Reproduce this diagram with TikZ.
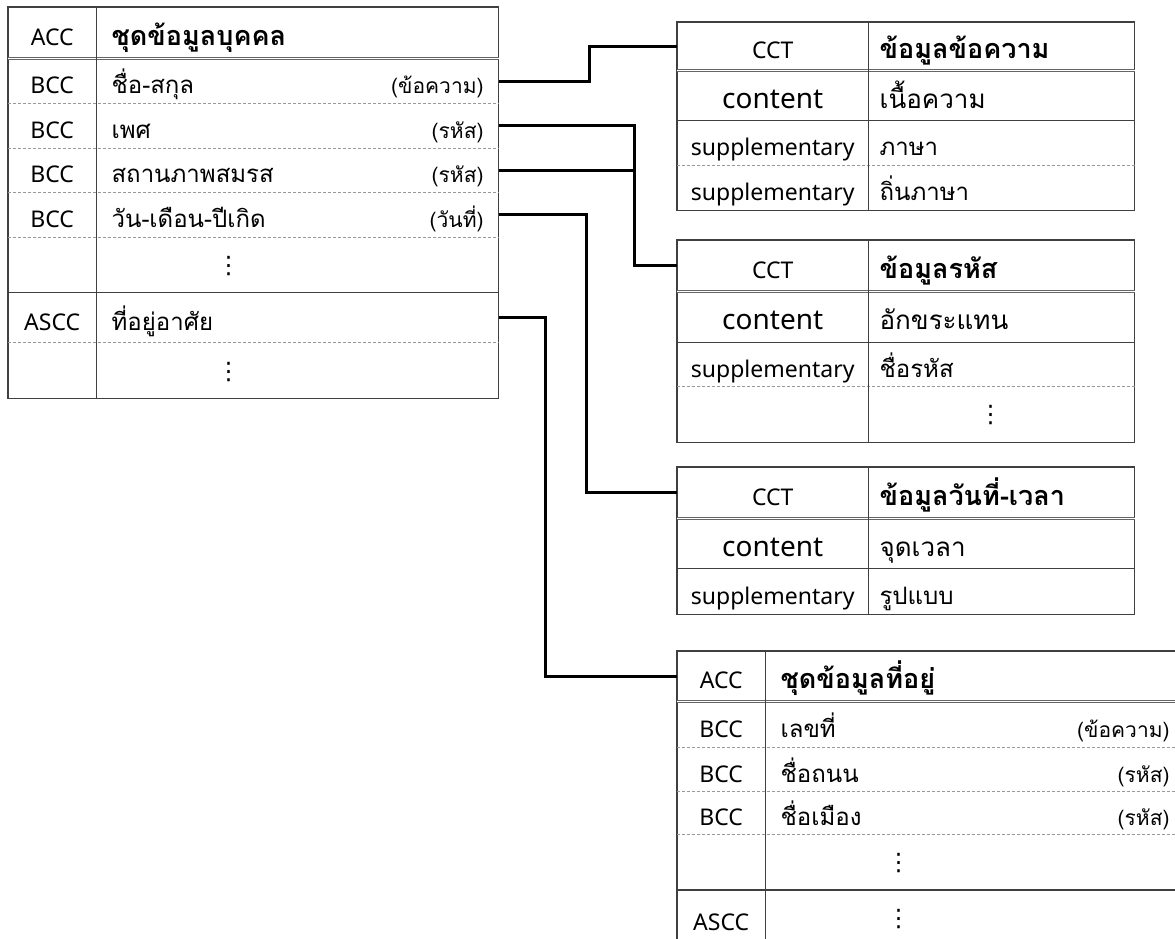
\documentclass[tikz,border=0pt]{standalone}
\usepackage{fontspec}
\setmainfont{Noto Sans}
\newfontfamily\thaifont[Script=Thai]{Loma}
\newfontfamily\dotsfont{DejaVu Sans}
\usetikzlibrary{positioning}
\setlength{\parindent}{0pt}
\newcommand{\dtype}[1]{{\fontsize{21}{25}\selectfont(#1)}}
\newcommand{\morerows}[1]{\hspace*{#1}\raisebox{4pt}{\dotsfont ⋮}}

\begin{document}
\begin{tikzpicture}[
    x=1pt, y=-1pt,
    font=\fontsize{23}{27}\selectfont,
    key/.style={minimum width=88pt, minimum height=#1, inner sep=0pt,
                text height=25pt, text depth=0pt},
    val/.style={minimum height=#1, text width=372pt, inner xsep=15pt, inner ysep=0pt,
                text height=25pt, text depth=0pt,
                align=left, font=\thaifont\fontsize{24}{28}\selectfont},
    hval/.style={val=#1, font=\thaifont\bfseries\fontsize{27}{31}\selectfont},
    ckey/.style={minimum width=191pt, minimum height=#1, inner sep=0pt,
                 text height=25pt, text depth=0pt},
    cval/.style={minimum height=#1, text width=244pt, inner xsep=11pt, inner ysep=0pt,
                 text height=25pt, text depth=0pt,
                 align=left, font=\thaifont\fontsize{24}{28}\selectfont},
    chval/.style={cval=#1, font=\thaifont\bfseries\fontsize{27}{31}\selectfont},
    big/.style={font=\fontsize{28}{32}\selectfont},
    bigthai/.style={font=\thaifont\fontsize{26}{30}\selectfont},
    frame/.style={draw=black!75, line width=1.3pt},
    dbl/.style={draw=black!60, double=white, double distance=1.6pt, line width=0.9pt},
    sep/.style={draw=black!40, line width=1pt, dash pattern=on 3pt off 2pt},
    link/.style={draw=black, line width=3pt}
]
\useasboundingbox (0,0) rectangle (1175,939);
\clip (0,0) rectangle (1175,939);

% person record (left)
\node[key=51, anchor=north west] (ppl-hk) at (8,7) {ACC};
\node[hval=51, right=0pt of ppl-hk] (ppl-hd) {ชุดข้อมูลบุคคล};
\node[key=45, below=0pt of ppl-hk] (ppl-k1) {BCC};
\node[val=45, right=0pt of ppl-k1] (ppl-r1) {ชื่อ-สกุล\hfill\dtype{ข้อความ}};
\node[key=44, below=0pt of ppl-k1] (ppl-k2) {BCC};
\node[val=44, right=0pt of ppl-k2] (ppl-r2) {เพศ\hfill\dtype{รหัส}};
\node[key=44, below=0pt of ppl-k2] (ppl-k3) {BCC};
\node[val=44, right=0pt of ppl-k3] (ppl-r3) {สถานภาพสมรส\hfill\dtype{รหัส}};
\node[key=44, below=0pt of ppl-k3] (ppl-k4) {BCC};
\node[val=44, right=0pt of ppl-k4] (ppl-r4) {วัน-เดือน-ปีเกิด\hfill\dtype{วันที่}};
\node[key=55, below=0pt of ppl-k4] (ppl-k5) {};
\node[val=55, right=0pt of ppl-k5] (ppl-r5) {\morerows{105pt}};
\node[key=50, below=0pt of ppl-k5] (ppl-k6) {ASCC};
\node[val=50, right=0pt of ppl-k6] (ppl-r6) {ที่อยู่อาศัย};
\node[key=55, below=0pt of ppl-k6] (ppl-k7) {};
\node[val=55, right=0pt of ppl-k7] (ppl-r7) {\morerows{105pt}};

\draw[frame] (ppl-hk.north west) rectangle (ppl-r7.south east);
\draw[dbl] (ppl-hk.south west) -- (ppl-hd.south east);
\foreach \i in {1,2,3,4,6} \draw[sep] (ppl-k\i.south west) -- (ppl-r\i.south east);
\draw[frame] (ppl-k5.south west) -- (ppl-r5.south east);
\draw[frame] (ppl-hk.north east) -- (ppl-k7.south east);

% text type
\node[ckey=48, anchor=north west] (msg-hk) at (677,22) {CCT};
\node[chval=48, right=0pt of msg-hk] (msg-hd) {ข้อมูลข้อความ};
\node[ckey=50, big, below=0pt of msg-hk] (msg-k1) {content};
\node[cval=50, bigthai, right=0pt of msg-k1] (msg-r1) {เนื้อความ};
\node[ckey=44, below=0pt of msg-k1] (msg-k2) {supplementary};
\node[cval=44, right=0pt of msg-k2] (msg-r2) {ภาษา};
\node[ckey=45, below=0pt of msg-k2] (msg-k3) {supplementary};
\node[cval=45, right=0pt of msg-k3] (msg-r3) {ถิ่นภาษา};

\draw[frame] (msg-hk.north west) rectangle (msg-r3.south east);
\draw[dbl] (msg-hk.south west) -- (msg-hd.south east);
\draw[frame] (msg-k1.south west) -- (msg-r1.south east);
\draw[sep] (msg-k2.south west) -- (msg-r2.south east);
\draw[frame] (msg-hk.north east) -- (msg-k3.south east);

% code type
\node[ckey=51, anchor=north west] (code-hk) at (677,240) {CCT};
\node[chval=51, right=0pt of code-hk] (code-hd) {ข้อมูลรหัส};
\node[ckey=51, big, below=0pt of code-hk] (code-k1) {content};
\node[cval=51, bigthai, right=0pt of code-k1] (code-r1) {อักขระแทน};
\node[ckey=43, below=0pt of code-k1] (code-k2) {supplementary};
\node[cval=43, right=0pt of code-k2] (code-r2) {ชื่อรหัส};
\node[ckey=56, below=0pt of code-k2] (code-k3) {};
\node[cval=56, right=0pt of code-k3] (code-r3) {\morerows{99pt}};

\draw[frame] (code-hk.north west) rectangle (code-r3.south east);
\draw[dbl] (code-hk.south west) -- (code-hd.south east);
\draw[frame] (code-k1.south west) -- (code-r1.south east);
\draw[sep] (code-k2.south west) -- (code-r2.south east);
\draw[frame] (code-hk.north east) -- (code-k3.south east);

% date-time type
\node[ckey=51, anchor=north west] (date-hk) at (677,467) {CCT};
\node[chval=51, right=0pt of date-hk] (date-hd) {ข้อมูลวันที่-เวลา};
\node[ckey=50, big, below=0pt of date-hk] (date-k1) {content};
\node[cval=50, bigthai, right=0pt of date-k1] (date-r1) {จุดเวลา};
\node[ckey=45, below=0pt of date-k1] (date-k2) {supplementary};
\node[cval=45, right=0pt of date-k2] (date-r2) {รูปแบบ};

\draw[frame] (date-hk.north west) rectangle (date-r2.south east);
\draw[dbl] (date-hk.south west) -- (date-hd.south east);
\draw[frame] (date-k1.south west) -- (date-r1.south east);
\draw[frame] (date-hk.north east) -- (date-k2.south east);

% address record (cut by the page edge)
\node[key=50, anchor=north west] (addr-hk) at (677,651) {ACC};
\node[hval=50, text width=389pt, right=0pt of addr-hk] (addr-hd) {ชุดข้อมูลที่อยู่};
\node[key=46, below=0pt of addr-hk] (addr-k1) {BCC};
\node[val=46, text width=389pt, right=0pt of addr-k1] (addr-r1) {เลขที่\hfill\dtype{ข้อความ}};
\node[key=43, below=0pt of addr-k1] (addr-k2) {BCC};
\node[val=43, text width=389pt, right=0pt of addr-k2] (addr-r2) {ชื่อถนน\hfill\dtype{รหัส}};
\node[key=43, below=0pt of addr-k2] (addr-k3) {BCC};
\node[val=43, text width=389pt, right=0pt of addr-k3] (addr-r3) {ชื่อเมือง\hfill\dtype{รหัส}};
\node[key=55, below=0pt of addr-k3] (addr-k4) {};
\node[val=55, text width=389pt, right=0pt of addr-k4] (addr-r4) {\morerows{106pt}};
\node[key=55, below=0pt of addr-k4] (addr-k5) {ASCC};
\node[val=55, text width=389pt, right=0pt of addr-k5] (addr-r5) {\morerows{106pt}};

\draw[frame] (addr-hk.north west) rectangle (addr-r5.south east);
\draw[dbl] (addr-hk.south west) -- (addr-hd.south east);
\foreach \i in {1,2,3} \draw[sep] (addr-k\i.south west) -- (addr-r\i.south east);
\draw[frame] (addr-k4.south west) -- (addr-r4.south east);
\draw[frame] (addr-hk.north east) -- (addr-k5.south east);

% links
\draw[link] (ppl-r1.east) -- ++(91,0) |- (msg-hk.west);
\draw[link] (ppl-r2.east) -- ++(136,0) coordinate (kink) |- (code-hk.west);
\draw[link] (ppl-r3.east) -- (ppl-r3.east -| kink);
\draw[link] (ppl-r4.east) -- ++(88,0) |- (date-hk.west);
\draw[link] (ppl-r6.east) -- ++(47,0) |- (addr-hk.west);

\end{tikzpicture}
\end{document}
